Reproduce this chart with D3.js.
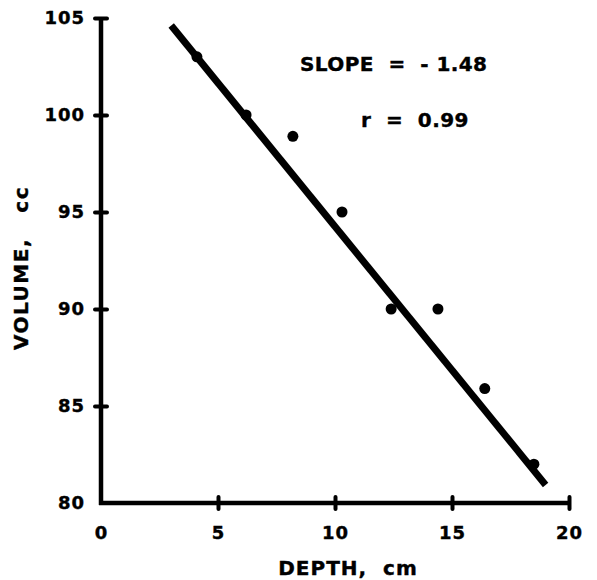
<!DOCTYPE html>
<html>
<head>
<meta charset="utf-8">
<script src="https://cdn.jsdelivr.net/npm/d3@7"></script>
<style>
  body { margin: 0; background: #fff; }
  svg text { font-family: "DejaVu Sans", sans-serif; font-weight: bold; fill: #000; stroke: #000; stroke-width: 0.4; }
</style>
</head>
<body>
<svg width="597" height="580"></svg>
<script>
// depth (cm) vs volume (cc)
const depth = [4.1, 6.2, 8.2, 10.3, 12.4, 14.4, 16.4, 18.5]
const volume = [103, 100, 98.9, 95, 90, 90, 85.9, 82]
const xTicks = [0, 5, 10, 15, 20]
const yTicks = [80, 85, 90, 95, 100, 105]
// fitted line
const slope = -1.48
const intercept = 109.05
const fitX = [3, 19]
const notes = ["SLOPE  =  - 1.48", "r  =  0.99"]

const svg = d3.select("svg")

const x = d3.scaleLinear().domain([0, 20]).range([101, 569])
const y = d3.scaleLinear().domain([80, 105]).range([503, 18])

// x axis
const xAxis = svg.append("g")
  .attr("transform", `translate(0, ${y(80)})`)
  .call(d3.axisBottom(x).tickValues(xTicks).tickSize(0).tickPadding(23))
xAxis.select(".domain").attr("stroke-width", 4.5).attr("d", `M${x(0) - 2},0H${x(20)}`)
xAxis.selectAll(".tick")
  .filter(d => d > 0)
  .append("line")
  .attr("y1", -6).attr("y2", 6)
  .attr("stroke", "black").attr("stroke-width", 4).attr("stroke-linecap", "round")
xAxis.selectAll(".tick text").attr("font-size", 18).attr("letter-spacing", 1)

// y axis
const yAxis = svg.append("g")
  .attr("transform", `translate(${x(0)}, 0)`)
  .call(d3.axisLeft(y).tickValues(yTicks).tickSize(0).tickPadding(16))
yAxis.select(".domain").attr("stroke-width", 4.5).attr("d", `M0,${y(105)}V${y(80) + 2}`)
yAxis.selectAll(".tick")
  .filter(d => d > 80)
  .append("line")
  .attr("x1", -6).attr("x2", 6)
  .attr("stroke", "black").attr("stroke-width", 4).attr("stroke-linecap", "round")
yAxis.selectAll(".tick text").attr("font-size", 18).attr("letter-spacing", 1)

// axis titles
svg.append("text")
  .attr("x", 348).attr("y", 575)
  .attr("text-anchor", "middle")
  .attr("font-size", 20)
  .attr("letter-spacing", 1)
  .style("white-space", "pre")
  .text("DEPTH,  cm")

svg.append("text")
  .attr("transform", `translate(28, 268) rotate(-90)`)
  .attr("text-anchor", "middle")
  .attr("font-size", 20)
  .attr("letter-spacing", 1.5)
  .style("white-space", "pre")
  .text("VOLUME,   cc")

// regression line
svg.append("line")
  .attr("x1", x(fitX[0])).attr("y1", y(intercept + slope * fitX[0]))
  .attr("x2", x(fitX[1])).attr("y2", y(intercept + slope * fitX[1]))
  .attr("stroke", "black")
  .attr("stroke-width", 7)

// points
svg.selectAll("circle")
  .data(depth)
  .join("circle")
  .attr("cx", d => x(d))
  .attr("cy", (d, i) => y(volume[i]))
  .attr("r", 5.5)
  .attr("fill", "black")

// annotations
svg.append("text")
  .attr("x", 300).attr("y", 71)
  .attr("font-size", 20)
  .attr("letter-spacing", 0.4)
  .style("white-space", "pre")
  .text(notes[0])

svg.append("text")
  .attr("x", 361).attr("y", 127)
  .attr("font-size", 20)
  .attr("letter-spacing", 0.4)
  .style("white-space", "pre")
  .text(notes[1])
</script>
</body>
</html>
